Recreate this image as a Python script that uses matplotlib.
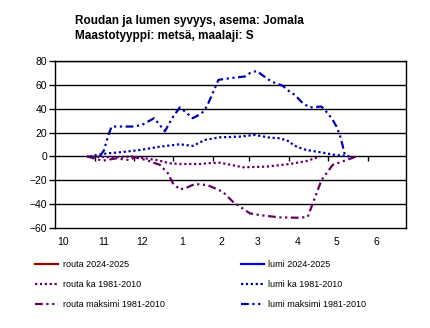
import matplotlib
matplotlib.use("Agg")
import matplotlib.pyplot as plt

plt.rcParams['font.family'] = ['Liberation Sans', 'DejaVu Sans']

# x = days since 1 October
month_starts = [0, 31, 61, 92, 123, 151, 182, 212, 243]
month_labels = ["10", "11", "12", "1", "2", "3", "4", "5", "6"]

# lumi maksimi 1981-2010
snow_max_x = [35, 38, 41.5, 44, 47, 60, 67, 72, 77, 85.4, 91, 97, 101, 107, 114, 118,
              123, 127, 136, 147.5, 151.4, 156.8, 161.5, 168.2, 177, 182.5, 186.3,
              192.5, 198, 207, 212, 215.8, 218.7, 221.3, 223.4, 225.2, 226.7]
snow_max_y = [0.5, 5, 18, 25, 25, 25, 26, 29, 32, 21, 32, 41, 37.5, 32, 36, 41.7,
              54, 64, 65.4, 66.8, 69.6, 71.5, 67.6, 62.6, 59, 54, 51.5,
              44.5, 41, 41.7, 36, 30.5, 25, 18, 9.6, 1.3, 0]

# lumi ka 1981-2010
snow_mean_x = [27, 31, 40, 50.5, 66, 81.5, 97, 107, 116.5, 128, 143.6, 155.3, 167,
               174.7, 182.5, 185, 189, 195.4, 208, 217.4, 226.5, 229]
snow_mean_y = [0, 1, 2.5, 3.5, 5.4, 8.2, 10.2, 8.8, 13.8, 16, 16.6, 18, 15.7,
               15.2, 12.4, 9.6, 7.7, 5.4, 3.2, 1.3, 0.4, 0]

# routa ka 1981-2010
frost_mean_x = [25, 45, 60.6, 79, 89.3, 97, 112.6, 117.8, 128, 146, 164.4, 182.5,
                195.4, 204.2, 206]
frost_mean_y = [0, -0.7, 0, -3, -5.7, -6.3, -6.3, -5.7, -5.2, -9, -8.5, -6.3,
                -3.8, -0.7, 0]

# routa maksimi 1981-2010
frost_max_x = [25, 37, 48, 53, 58, 62, 71, 81.5, 87.7, 91.6, 97, 102.3, 108.7, 117.8,
               120.3, 130.4, 138.2, 151.4, 159.2, 174.7, 190.2, 196.4, 199.3, 203.2,
               207.1, 215.8, 226.5, 234.2]
frost_max_y = [0, -3.5, -1.5, -2.4, -3, -0.7, -3, -7, -14, -22.4, -27.5, -26, -23, -23.8,
               -24.7, -29.5, -37.8, -47.5, -49, -50.9, -51.2, -50.4, -42, -30.8,
               -19.7, -7, -3, 0]

# current season (no data)
frost_now_x, frost_now_y = [], []
snow_now_x, snow_now_y = [], []

title = "Roudan ja lumen syvyys, asema: Jomala\nMaastotyyppi: metsä, maalaji: S"

fig = plt.figure(figsize=(4.3, 3.28), dpi=100)
ax = fig.add_axes([55/430, 1-228.3/328, 350.7/430, 167.6/328])

purple = '#660066'
blue_dark = '#0000B4'
dotted = (0, (1, 1.2))
dashdot = (0, (3.5, 1.6, 1, 1.6, 1, 1.6))
lw = 1.6

h1, = ax.plot(frost_now_x, frost_now_y, color='#990000', lw=lw, label='routa 2024-2025')
h2, = ax.plot(frost_mean_x, frost_mean_y, color=purple, lw=lw, ls=dotted, label='routa ka 1981-2010')
h3, = ax.plot(frost_max_x, frost_max_y, color=purple, lw=lw, ls=dashdot, label='routa maksimi 1981-2010')
h4, = ax.plot(snow_now_x, snow_now_y, color='#0000E6', lw=lw, label='lumi 2024-2025')
h5, = ax.plot(snow_mean_x, snow_mean_y, color=blue_dark, lw=lw, ls=dotted, label='lumi ka 1981-2010')
h6, = ax.plot(snow_max_x, snow_max_y, color=blue_dark, lw=lw, ls=dashdot, label='lumi maksimi 1981-2010')

ax.set_xlim(0, 272.5)
ax.set_ylim(-60, 80)
ax.set_yticks(range(-60, 81, 20))
for y in range(-40, 81, 20):
    ax.axhline(y, color='black', lw=1, zorder=1)
# ticks on the zero line
ax.vlines(month_starts[1:], -4, 0, color='black', lw=1, zorder=1)

ax.set_xticks([m + 6.5 for m in month_starts])
ax.set_xticklabels(month_labels)
ax.tick_params(axis='x', length=0, pad=6.5, labelsize=7.5)
ax.tick_params(axis='y', length=4, width=1, pad=1.5, labelsize=7.5)
for s in ax.spines.values():
    s.set_linewidth(1)
    s.set_color('black')

fig.text(75/430, 1-15/328, title, fontsize=8.5, fontweight='bold', va='top', ha='left',
         linespacing=1.35)

fig.legend(handles=[h1, h2, h3, h4, h5, h6], ncol=2, loc='upper left',
           bbox_to_anchor=(35/430, 1-260/328), frameon=False, fontsize=6.5,
           handlelength=2.6, handletextpad=0.45, columnspacing=8.45,
           labelspacing=1.2, borderpad=0, borderaxespad=0)

fig.savefig('out.png', dpi=100)
